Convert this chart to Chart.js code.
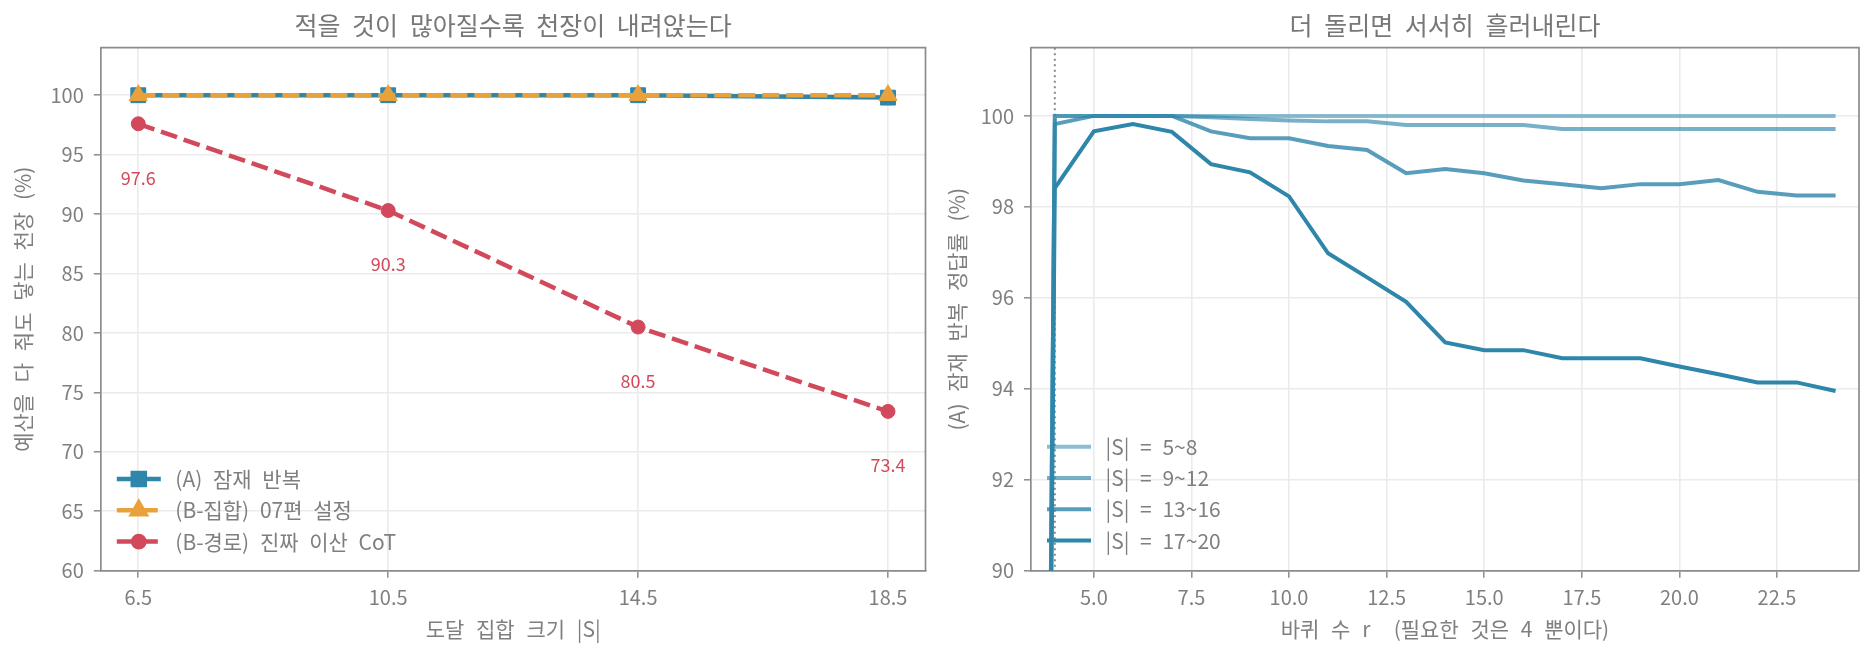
<!DOCTYPE html>
<html><head><meta charset="utf-8">
<script src="https://cdn.jsdelivr.net/npm/chart.js@4.4.0/dist/chart.umd.min.js"></script>
<style>
html,body{margin:0;padding:0;background:#fff;}
#wrap{position:relative;width:1874px;height:658px;overflow:hidden;}
.c{position:absolute;top:0;width:937px;height:658px;}
</style></head><body>
<div id="wrap">
<div class="c" style="left:0"><canvas id="left" width="937" height="658"></canvas></div>
<div class="c" style="left:937px"><canvas id="right" width="937" height="658"></canvas></div>
</div>
<script>
// ---------- data (left panel) ----------
const setSizes = [6.5, 10.5, 14.5, 18.5];
const latentLoop = [100, 100, 100, 99.8];
const setBaseline = [100, 100, 100, 100];
const pathCot = [97.6, 90.3, 80.5, 73.4];
const leftXTicks = [6.5, 10.5, 14.5, 18.5];
const leftYTicks = [60, 65, 70, 75, 80, 85, 90, 95, 100];
const leftLabels = ['(A) 잠재 반복', '(B-집합) 07편 설정', '(B-경로) 진짜 이산 CoT'];

// ---------- data (right panel) ----------
const rounds = [3,4,5,6,7,8,9,10,11,12,13,14,15,16,17,18,19,20,21,22,23,24];
const acc5to8   = [0,100,100,100,100,100,100,100,100,100,100,100,100,100,100,100,100,100,100,100,100,100];
const acc9to12  = [0,100,100,100,100,99.97,99.93,99.9,99.88,99.88,99.8,99.8,99.8,99.8,99.71,99.71,99.71,99.71,99.71,99.71,99.71,99.71];
const acc13to16 = [0,99.82,100,100,100,99.66,99.51,99.51,99.34,99.25,98.74,98.83,98.74,98.58,98.5,98.41,98.5,98.5,98.59,98.33,98.25,98.25];
const acc17to20 = [0,98.41,99.66,99.82,99.65,98.94,98.76,98.23,96.98,96.45,95.91,95.02,94.85,94.85,94.67,94.67,94.67,94.49,94.32,94.14,94.14,93.95];
const rightLabels = ['|S| = 5~8', '|S| = 9~12', '|S| = 13~16', '|S| = 17~20'];
const rightXTicks = [5, 7.5, 10, 12.5, 15, 17.5, 20, 22.5];
const rightYTicks = [90, 92, 94, 96, 98, 100];
const neededRounds = 4;

// ---------- styles ----------
const BLUE = '#2E86AB', ORANGE = '#E9A23B', RED = '#D1495B';
const TEXT = '#7f7f7f', SPINE = '#8c8c8c', GRID = '#ebebeb';
const FONT = "'Noto Sans CJK KR', 'Noto Sans', sans-serif";
Chart.defaults.font.family = FONT;
Chart.defaults.color = TEXT;
function blue(a){ return `rgba(46,134,171,${a})`; }

const panelPlugin = {
  id: 'panel',
  beforeDraw(chart) { chart.ctx.wordSpacing = '7px'; },
  beforeDatasetsDraw(chart, args, o) {
    const ctx = chart.ctx, a = chart.chartArea;
    if (o.refX !== undefined) {
      const x = chart.scales.x.getPixelForValue(o.refX);
      ctx.save();
      ctx.strokeStyle = '#888'; ctx.lineWidth = 2; ctx.setLineDash([2, 3.5]);
      ctx.beginPath(); ctx.moveTo(x, a.top); ctx.lineTo(x, a.bottom); ctx.stroke();
      ctx.restore();
    }
  },
  afterDraw(chart, args, o) {
    const ctx = chart.ctx, a = chart.chartArea;
    ctx.save();
    // top & right spines
    ctx.strokeStyle = SPINE; ctx.lineWidth = 1.7;
    ctx.beginPath(); ctx.moveTo(a.left, a.top); ctx.lineTo(a.right, a.top); ctx.lineTo(a.right, a.bottom); ctx.stroke();
    // title
    ctx.wordSpacing = '6px';
    ctx.fillStyle = '#777'; ctx.font = `25px ${FONT}`; ctx.textAlign = 'center'; ctx.textBaseline = 'middle';
    ctx.fillText(o.title, (a.left + a.right) / 2, 25);
    // value labels
    chart.data.datasets.forEach((ds, i) => {
      if (!ds.showValues) return;
      const meta = chart.getDatasetMeta(i);
      ctx.fillStyle = ds.borderColor; ctx.font = `18px ${FONT}`;
      meta.data.forEach((pt, j) => ctx.fillText(ds.data[j].y.toFixed(1), pt.x, pt.y + 54));
    });
    // legend
    ctx.textAlign = 'left';
    ctx.wordSpacing = '6px';
    chart.data.datasets.forEach((ds, i) => {
      const y = a.bottom - o.legendBottom - (chart.data.datasets.length - 1 - i) * 31.3;
      const x0 = a.left + 16, x1 = a.left + 60;
      ctx.save();
      ctx.strokeStyle = ds.borderColor; ctx.lineWidth = ds.borderWidth;
      ctx.setLineDash(ds.borderDash ? ds.borderDash : []);
      ctx.beginPath(); ctx.moveTo(x0, y); ctx.lineTo(x1, y); ctx.stroke();
      ctx.restore();
      if (ds.pointRadius > 0) {
        ctx.fillStyle = ds.borderColor; ctx.strokeStyle = ds.borderColor;
        Chart.helpers.drawPoint(ctx, {pointStyle: ds.pointStyle, radius: ds.pointRadius, borderWidth: 1}, (x0 + x1) / 2, y);
      }
      ctx.fillStyle = TEXT; ctx.font = `21px ${FONT}`;
      ctx.fillText(ds.label, a.left + 74.5, y);
    });
    ctx.restore();
  }
};

function axisCommon(ticksArr, fmt, fitProp, fitVal, titleText, titlePad) {
  return {
    type: 'linear',
    afterBuildTicks(s) { s.ticks = ticksArr.map(v => ({value: v})); },
    afterFit(s) { s[fitProp] = fitVal; },
    grid: {color: GRID, lineWidth: 1.6, tickLength: 7, tickColor: SPINE, tickWidth: 1.5},
    border: {color: SPINE, width: 1.7},
    ticks: {padding: fitProp === 'height' ? 8 : 10, font: {size: 20}, color: TEXT, callback: fmt},
    title: {display: true, text: titleText, font: {size: 21}, color: TEXT, padding: titlePad}
  };
}

new Chart(document.getElementById('left'), {
  type: 'line',
  data: {datasets: [
    {label: leftLabels[0], data: setSizes.map((x, i) => ({x, y: latentLoop[i]})), borderColor: BLUE, backgroundColor: BLUE,
     borderWidth: 4.5, pointStyle: 'rect', pointRadius: 10.5, pointBorderWidth: 1, pointBorderColor: BLUE, order: 3},
    {label: leftLabels[1], data: setSizes.map((x, i) => ({x, y: setBaseline[i]})), borderColor: ORANGE, backgroundColor: ORANGE,
     borderWidth: 4.5, borderDash: [17, 7], pointStyle: 'triangle', pointRadius: 10.5, pointBorderWidth: 1, pointBorderColor: ORANGE, order: 2},
    {label: leftLabels[2], data: setSizes.map((x, i) => ({x, y: pathCot[i]})), borderColor: RED, backgroundColor: RED,
     borderWidth: 4.5, borderDash: [17, 7], pointStyle: 'circle', pointRadius: 7, pointBorderWidth: 1, pointBorderColor: RED, order: 1, showValues: true}
  ]},
  options: {
    responsive: false, animation: false, events: [],
    layout: {padding: {top: 47.7, right: 9, left: 0, bottom: 0}},
    plugins: {legend: {display: false}, tooltip: {enabled: false},
      panel: {title: '적을 것이 많아질수록 천장이 내려앉는다', legendBottom: 29.1}},
    scales: {
      x: Object.assign(axisCommon(leftXTicks, v => Number(v).toFixed(1), 'height', 87.3, '도달 집합 크기 |S|', {top: 0, bottom: 16}), {min: 5.9, max: 19.1}),
      y: Object.assign(axisCommon(leftYTicks, v => String(v), 'width', 100.8, '예산을 다 줘도 닿는 천장 (%)', {top: 10, bottom: 0}), {min: 60, max: 104})
    }
  },
  plugins: [panelPlugin]
});

const rightSeries = [acc5to8, acc9to12, acc13to16, acc17to20];
const rightAlpha = [0.55, 0.65, 0.8, 1];
new Chart(document.getElementById('right'), {
  type: 'line',
  data: {datasets: rightSeries.map((arr, k) => ({
    label: rightLabels[k], data: rounds.map((r, i) => ({x: r, y: arr[i]})),
    borderColor: blue(rightAlpha[k]), borderWidth: 4, pointRadius: 0, order: 4 - k, clip: 0
  }))},
  options: {
    responsive: false, animation: false, events: [],
    layout: {padding: {top: 47.7, right: 15, left: 0, bottom: 0}},
    plugins: {legend: {display: false}, tooltip: {enabled: false},
      panel: {title: '더 돌리면 서서히 흘러내린다', legendBottom: 30.1, refX: neededRounds}},
    scales: {
      x: Object.assign(axisCommon(rightXTicks, v => Number(v).toFixed(1), 'height', 87.3, '바퀴 수 r  (필요한 것은 4 뿐이다)', {top: 0, bottom: 16}), {min: 3.39, max: 24.6}),
      y: Object.assign(axisCommon(rightYTicks, v => String(v), 'width', 94, '(A) 잠재 반복 정답률 (%)', {top: 7, bottom: 0}), {min: 90, max: 101.5})
    }
  },
  plugins: [panelPlugin]
});
</script>
</body></html>
